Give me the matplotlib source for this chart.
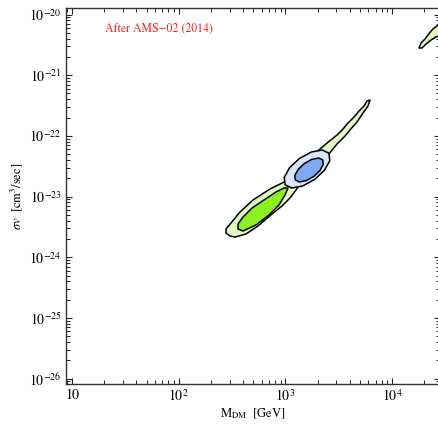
import numpy as np
import matplotlib
matplotlib.use("Agg")
import matplotlib.pyplot as plt
from matplotlib.ticker import FixedLocator, FixedFormatter, NullFormatter

plt.rcParams["font.family"] = ["STIXGeneral", "DejaVu Serif"]
plt.rcParams["mathtext.fontset"] = "stix"

# Contour outlines in (log10 M_DM [GeV], log10 <sigma v> [cm^3/s])
green_outer_logm = [2.443, 2.481, 2.528, 2.631, 2.743, 2.874, 2.968, 3.043, 3.184, 3.324,
                    3.399, 3.484, 3.559, 3.605, 3.671, 3.727, 3.774, 3.793, 3.765, 3.737,
                    3.690, 3.634, 3.577, 3.540, 3.484, 3.390, 3.259, 3.118, 3.006, 2.856,
                    2.696, 2.574, 2.490, 2.443]
green_outer_logsv = [-23.600, -23.649, -23.666, -23.616, -23.484, -23.287, -23.155, -23.023,
                     -22.694, -22.430, -22.315, -22.133, -22.002, -21.903, -21.771, -21.623,
                     -21.507, -21.409, -21.425, -21.507, -21.590, -21.705, -21.804, -21.886,
                     -21.985, -22.117, -22.315, -22.562, -22.743, -22.875, -23.056, -23.254,
                     -23.435, -23.534]

green_inner_logm = [2.556, 2.603, 2.724, 2.846, 2.940, 2.996, 3.024, 2.987, 2.912, 2.799,
                    2.687, 2.603, 2.556]
green_inner_logsv = [-23.534, -23.567, -23.468, -23.303, -23.138, -22.974, -22.858, -22.858,
                     -22.924, -23.056, -23.188, -23.336, -23.451]

blue_outer_logm = [3.408, 3.416, 3.366, 3.274, 3.161, 3.060, 2.997, 2.989, 3.038, 3.131,
                   3.244, 3.345]
blue_outer_logsv = [-22.285, -22.407, -22.565, -22.718, -22.825, -22.858, -22.806, -22.684,
                    -22.526, -22.372, -22.265, -22.232]

blue_inner_logm = [3.350, 3.354, 3.324, 3.266, 3.196, 3.132, 3.093, 3.088, 3.119, 3.176,
                   3.246, 3.310]
blue_inner_logsv = [-22.395, -22.471, -22.570, -22.667, -22.736, -22.759, -22.728, -22.652,
                    -22.554, -22.456, -22.387, -22.364]

high_mass_logm = [4.252, 4.271, 4.308, 4.336, 4.365, 4.393, 4.421, 4.468, 4.496, 4.458,
                  4.411, 4.365, 4.318, 4.280]
high_mass_logsv = [-20.552, -20.470, -20.404, -20.338, -20.272, -20.222, -20.189, -20.124,
                   -20.255, -20.338, -20.371, -20.420, -20.486, -20.552]

x_limits = (8.73, 2.81e4)
y_limits = (8.18e-27, 1.28e-20)
x_major = [1e1, 1e2, 1e3, 1e4]
x_major_labels = ["10", r"$10^{2}$", r"$10^{3}$", r"$10^{4}$"]
y_major = [1e-26, 1e-25, 1e-24, 1e-23, 1e-22, 1e-21, 1e-20]
y_major_labels = [r"$10^{-26}$", r"$10^{-25}$", r"$10^{-24}$", r"$10^{-23}$",
                  r"$10^{-22}$", r"$10^{-21}$", r"$10^{-20}$"]
label_text = "After AMS\u221202 (2014)"

fig = plt.figure(figsize=(4.39, 4.24), dpi=100)
ax = fig.add_axes([65.7 / 439, 40 / 424, (440 - 65.7) / 439, (384 - 8) / 424])
ax.set_xscale("log")
ax.set_yscale("log")
ax.set_xlim(*x_limits)
ax.set_ylim(*y_limits)

def region(logm, logsv, color, z):
    m = np.power(10.0, logm)
    sv = np.power(10.0, logsv)
    ax.fill(m, sv, facecolor=color, edgecolor="black", linewidth=1.1,
            joinstyle="round", zorder=z)

region(green_outer_logm, green_outer_logsv, "#e2f7c4", 2)
region(green_inner_logm, green_inner_logsv, "#8cf023", 3)
region(blue_outer_logm, blue_outer_logsv, "#dbe6fa", 4)
region(blue_inner_logm, blue_inner_logsv, "#80a9f4", 5)
region(high_mass_logm, high_mass_logsv, "#e2f7c4", 2)

ax.text(0.105, 0.944, label_text, transform=ax.transAxes, color="#ff1a1a",
        fontsize=8.5, ha="left", va="center")

def minor_positions(lo, hi):
    out = []
    for e in range(int(np.floor(np.log10(lo))), int(np.ceil(np.log10(hi))) + 1):
        for k in range(2, 10):
            v = k * 10.0 ** e
            if lo <= v <= hi:
                out.append(v)
    return out

ax.xaxis.set_major_locator(FixedLocator(x_major))
ax.xaxis.set_major_formatter(FixedFormatter(x_major_labels))
ax.yaxis.set_major_locator(FixedLocator(y_major))
ax.yaxis.set_major_formatter(FixedFormatter(y_major_labels))
ax.xaxis.set_minor_locator(FixedLocator(minor_positions(*x_limits)))
ax.yaxis.set_minor_locator(FixedLocator(minor_positions(*y_limits)))
ax.xaxis.set_minor_formatter(NullFormatter())
ax.yaxis.set_minor_formatter(NullFormatter())

ax.tick_params(which="both", direction="in", top=True, right=True, colors="#222222",
               labelsize=10, labelcolor="black")
ax.tick_params(which="major", length=4.5, width=0.8, pad=3)
ax.tick_params(which="minor", length=3.0, width=0.7)
for s in ax.spines.values():
    s.set_color("#333333")
    s.set_linewidth(1.0)

ax.set_xlabel(r"$\mathrm{M_{DM}}$  [GeV]", fontsize=9)
ax.set_ylabel(r"$\sigma v$  [cm$^3$/sec]", fontsize=9)
ax.xaxis.set_label_coords(0.5, -0.06)
ax.yaxis.set_label_coords(-0.109, 0.5)

fig.savefig("out.png", dpi=100)
